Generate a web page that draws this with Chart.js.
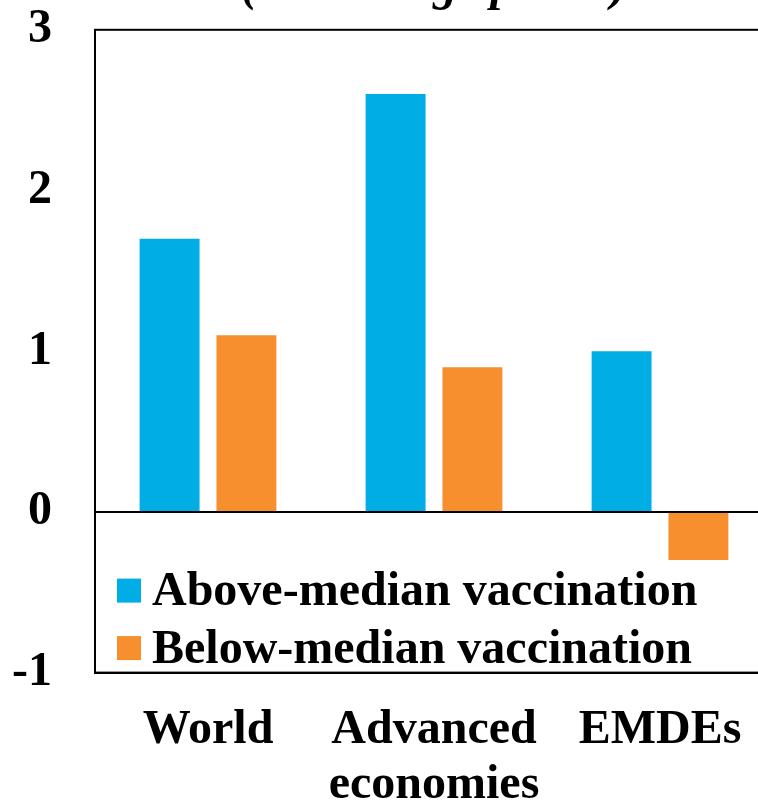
<!DOCTYPE html>
<html>
<head>
<meta charset="utf-8">
<script src="https://cdn.jsdelivr.net/npm/chart.js@4"></script>
<style>
  html, body { margin: 0; padding: 0; background: #fff; overflow: hidden; width: 758px; height: 802px; }
  #wrap { position: absolute; left: 0; top: -42px; width: 776px; height: 885px; }
</style>
</head>
<body>
<div id="wrap"><canvas id="c"></canvas></div>
<script>
const categories = [['World'], ['Advanced', 'economies'], ['EMDEs']];
const aboveMedian = [1.7, 2.6, 1.0];
const belowMedian = [1.1, 0.9, -0.3];
const seriesNames = ['Above-median vaccination', 'Below-median vaccination'];
const yTicks = [-1, 0, 1, 2, 3];

const FONT = '"Liberation Serif", "Times New Roman", serif';
const SIZE = 48;
const BLUE = '#00ADE4';
const ORANGE = '#F78F2E';

// Box around the plot area
const framePlugin = {
  id: 'frame',
  afterDatasetsDraw(chart) {
    const a = chart.chartArea, ctx = chart.ctx;
    ctx.save();
    ctx.strokeStyle = '#000';
    ctx.lineWidth = 2;
    ctx.strokeRect(a.left, a.top, a.right - a.left, a.bottom - a.top);
    ctx.restore();
  }
};

// Legend drawn inside the lower-left corner of the plot area
const insideLegend = {
  id: 'insideLegend',
  afterDraw(chart) {
    const a = chart.chartArea, ctx = chart.ctx;
    const rows = chart.data.datasets.map(d => ({ text: d.label, color: d.backgroundColor }));
    ctx.save();
    ctx.font = 'bold ' + SIZE + 'px ' + FONT;
    ctx.textBaseline = 'middle';
    rows.forEach((r, i) => {
      const cy = a.bottom - 82 + i * 57.5;
      ctx.fillStyle = r.color;
      ctx.fillRect(a.left + 22, cy - 12, 24, 24);
      ctx.fillStyle = '#000';
      ctx.fillText(r.text, a.left + 57, cy + 2);
    });
    ctx.restore();
  }
};

new Chart(document.getElementById('c'), {
  type: 'bar',
  data: {
    labels: categories,
    datasets: [
      { label: seriesNames[0], data: aboveMedian, backgroundColor: BLUE },
      { label: seriesNames[1], data: belowMedian, backgroundColor: ORANGE }
    ]
  },
  options: {
    responsive: true,
    maintainAspectRatio: false,
    animation: false,
    categoryPercentage: 0.68,
    barPercentage: 0.78,
    layout: { padding: { left: 12, right: 3, top: 0, bottom: 0 } },
    plugins: {
      legend: { display: false },
      tooltip: { enabled: false },
      title: {
        display: true,
        fullSize: false,
        text: '(Percentage points)',
        color: '#000',
        font: { family: FONT, size: SIZE, weight: 'bold', style: 'italic' },
        padding: { top: 0, bottom: 13 }
      }
    },
    scales: {
      x: {
        grid: { display: false, drawTicks: false },
        border: { display: true, color: '#000', width: 2 },
        ticks: {
          color: '#000',
          padding: 30,
          autoSkip: false,
          maxRotation: 0,
          font: { family: FONT, size: SIZE, weight: 'bold', lineHeight: 1.15 }
        }
      },
      y: {
        min: -1,
        max: 3,
        afterBuildTicks(scale) { scale.ticks = yTicks.map(v => ({ value: v })); },
        afterFit(scale) { scale.width = 83; },
        grid: {
          drawTicks: false,
          lineWidth: 2,
          color: ctx => (ctx.tick && ctx.tick.value === 0 ? '#000' : 'rgba(0,0,0,0)')
        },
        border: { display: true, color: '#000', width: 2 },
        ticks: {
          color: '#000',
          padding: 43,
          font: { family: FONT, size: SIZE, weight: 'bold' }
        }
      }
    }
  },
  plugins: [framePlugin, insideLegend]
});
</script>
</body>
</html>
